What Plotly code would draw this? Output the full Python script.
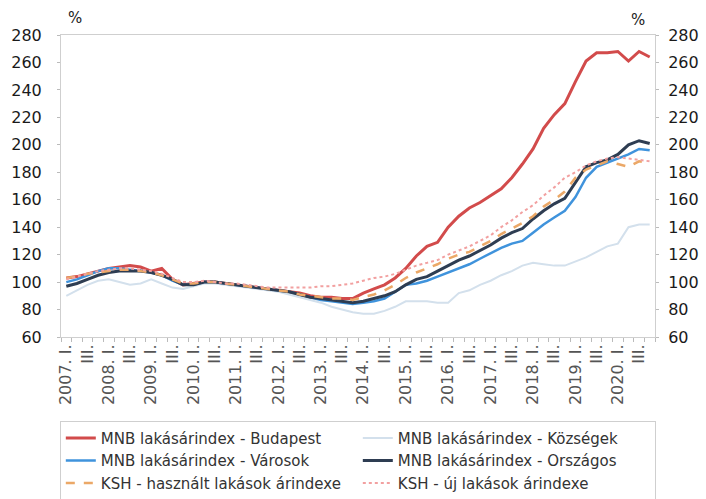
import plotly.graph_objects as go

years = list(range(2007, 2021))
roman = ["I.", "II.", "III.", "IV."]
quarters = [f"{y}. {r}" for y in years for r in roman]
tick_labels = []
for y in years:
    tick_labels += [f"{y}. I.", "III."]

budapest = [103, 104, 106, 108, 110, 111, 112, 111, 108, 110, 102, 98,
            99, 100, 100, 99, 98, 97, 96, 95, 94, 93, 92, 90,
            89, 89, 88, 88, 92, 95, 98, 103, 110, 119, 126, 129,
            140, 148, 154, 158, 163, 168, 176, 186, 197, 212, 222, 230,
            246, 261, 267, 267, 268, 261, 268, 264]
kozsegek = [90, 94, 98, 101, 102, 100, 98, 99, 102, 99, 96, 95,
            97, 99, 99, 98, 97, 96, 95, 94, 93, 91, 89, 87,
            85, 82, 80, 78, 77, 77, 79, 82, 86, 86, 86, 85,
            85, 92, 94, 98, 101, 105, 108, 112, 114, 113, 112, 112,
            115, 118, 122, 126, 128, 140, 142, 142]
varosok = [100, 102, 105, 108, 110, 110, 109, 108, 107, 105, 101, 98,
           98, 100, 100, 99, 98, 97, 96, 95, 94, 93, 91, 89,
           87, 86, 85, 84, 85, 86, 88, 93, 98, 99, 101, 104,
           107, 110, 113, 117, 121, 125, 128, 130, 136, 142, 147, 152,
           162, 176, 184, 187, 190, 193, 197, 196]
orszagos = [97, 99, 102, 105, 107, 108, 108, 108, 107, 105, 102, 98,
            98, 100, 100, 99, 98, 97, 96, 95, 94, 93, 91, 89,
            88, 87, 86, 85, 86, 88, 90, 93, 98, 102, 104, 108,
            112, 116, 119, 123, 127, 132, 136, 139, 146, 152, 157, 161,
            173, 184, 187, 189, 193, 200, 203, 201]
ksh_hasznalt = [103, 104, 106, 107, 108, 109, 109, 108, 107, 105, 102, 99,
                99, 100, 100, 99, 98, 97, 96, 95, 94, 93, 91, 90,
                89, 88, 88, 87, 89, 91, 94, 98, 103, 107, 110, 113,
                117, 120, 122, 126, 130, 135, 139, 143, 148, 155, 160, 166,
                176, 182, 185, 188, 186, 184, 188, 187]
ksh_uj = [102, 104, 106, 108, 109, 110, 110, 109, 108, 106, 103, 100,
          100, 101, 100, 99, 99, 98, 97, 96, 96, 96, 96, 96,
          97, 97, 98, 99, 101, 103, 104, 106, 109, 112, 114, 116,
          120, 123, 126, 130, 134, 140, 145, 151, 156, 163, 169, 176,
          180, 185, 188, 190, 191, 190, 189, 188]

series = [
    ("MNB lakásárindex - Budapest", budapest, "#D24B4B", 3, "solid"),
    ("MNB lakásárindex - Községek", kozsegek, "#D3E0EC", 2, "solid"),
    ("MNB lakásárindex - Városok", varosok, "#3F93DC", 2.5, "solid"),
    ("MNB lakásárindex - Országos", orszagos, "#2E3D52", 3, "solid"),
    ("KSH - használt lakások árindexe", ksh_hasznalt, "#EBA867", 2.5, "dash"),
    ("KSH - új lakások árindexe", ksh_uj, "#F2A0A0", 2, "dot"),
]

xs = list(range(len(quarters)))
fig = go.Figure()
for name, vals, color, width, dash in series:
    fig.add_trace(go.Scatter(x=xs, y=vals, name=name, mode="lines",
                             line=dict(color=color, width=width, dash=dash),
                             customdata=quarters,
                             hovertemplate="%{customdata}: %{y}<extra>" + name + "</extra>"))

# invisible copy on the right-hand axis so that it is drawn
fig.add_trace(go.Scatter(x=xs, y=orszagos, yaxis="y2", mode="lines",
                         line=dict(color="rgba(0,0,0,0)", width=0),
                         showlegend=False, hoverinfo="skip"))

font = "DejaVu Sans"
fig.update_layout(
    width=706, height=499,
    margin=dict(l=61, r=51, t=35, b=162, autoexpand=False),
    paper_bgcolor="white", plot_bgcolor="white",
    font=dict(family=font, size=16, color="#222"),
    showlegend=True,
    legend=dict(orientation="h", x=-0.002, y=-0.277, xanchor="left", yanchor="top",
                entrywidth=252, entrywidthmode="pixels",
                bordercolor="#cfcfcf", borderwidth=1, bgcolor="white",
                font=dict(family=font, size=15, color="#333")),
    xaxis=dict(range=[-0.5, len(quarters) - 0.5],
               tickvals=xs[::2], ticktext=tick_labels, tickangle=-90,
               ticks="", showgrid=False, zeroline=False,
               showline=True, linecolor="#cfcfcf", linewidth=1, mirror=True,
               tickfont=dict(family=font, size=16, color="#555"),
               minor=dict(tickvals=[i - 0.5 for i in range(len(quarters) + 1)],
                          ticks="outside", ticklen=4, tickcolor="#bbbbbb", showgrid=False)),
    yaxis=dict(range=[60, 280], dtick=20, tick0=60, ticks="outside", ticklen=3,
               tickcolor="#bbbbbb", showgrid=False, zeroline=False,
               showline=True, linecolor="#cfcfcf", linewidth=1,
               ticklabelstandoff=12,
               tickfont=dict(family=font, size=16, color="#1a1a1a")),
    yaxis2=dict(range=[60, 280], dtick=20, tick0=60, overlaying="y", side="right",
                ticks="outside", ticklen=3, tickcolor="#bbbbbb",
                showgrid=False, zeroline=False,
                showline=True, linecolor="#cfcfcf", linewidth=1,
                ticklabelstandoff=6,
                tickfont=dict(family=font, size=16, color="#1a1a1a")),
    annotations=[
        dict(text="%", x=0.0236, y=1.056, xref="paper", yref="paper",
             xanchor="center", yanchor="middle",
             showarrow=False, font=dict(family=font, size=15, color="#222")),
        dict(text="%", x=0.971, y=1.05, xref="paper", yref="paper",
             xanchor="center", yanchor="middle",
             showarrow=False, font=dict(family=font, size=15, color="#222")),
    ],
)
fig.write_html("out.html", config={"displayModeBar": False},
               post_script="document.body.style.margin='0px';document.body.style.overflow='hidden';")
